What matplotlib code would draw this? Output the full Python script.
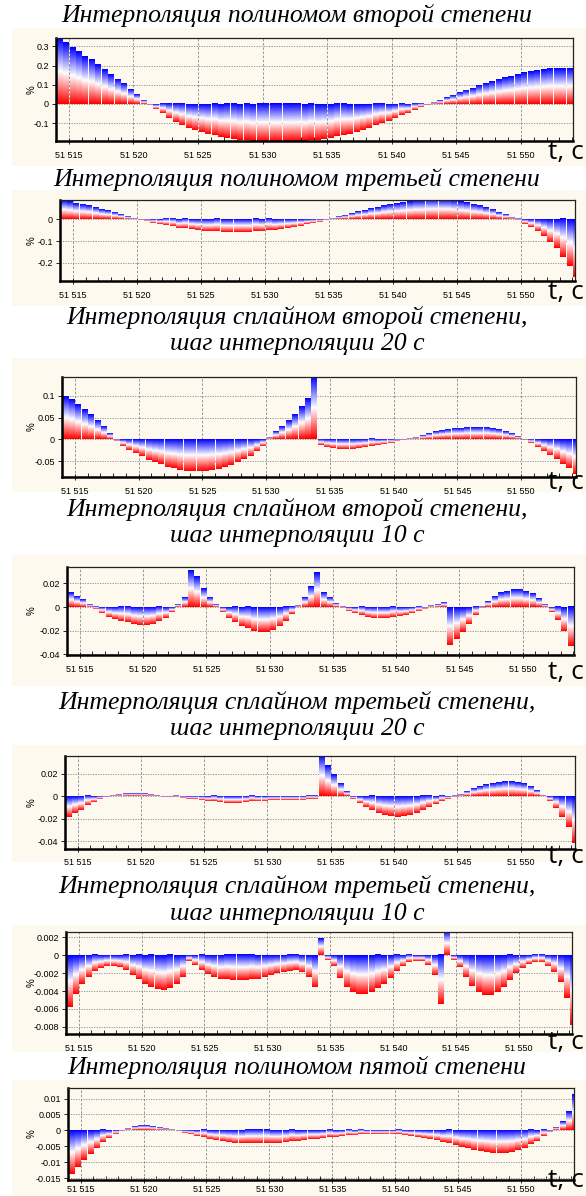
import numpy as np
import matplotlib
matplotlib.use('Agg')
import matplotlib.pyplot as plt
from matplotlib.colors import LinearSegmentedColormap
from matplotlib.patches import Rectangle
from matplotlib.ticker import FuncFormatter, MultipleLocator

# время (левый край каждого столбика), с
shag = 0.5
tempo = np.arange(51514.0, 51554.0 + shag / 2, shag)

# погрешность интерполяции, %  (шаг 0.5 с)
polinom2 = [0.34, 0.32, 0.295, 0.275, 0.25, 0.23, 0.205, 0.18, 0.155, 0.13,
            0.105, 0.075, 0.05, 0.02, -0.005, -0.025, -0.05, -0.075, -0.095, -0.11,
            -0.125, -0.135, -0.145, -0.155, -0.165, -0.172, -0.178, -0.183, -0.187, -0.19,
            -0.193, -0.195, -0.196, -0.197, -0.197, -0.197, -0.196, -0.195, -0.193, -0.19,
            -0.187, -0.182, -0.177, -0.17, -0.163, -0.155, -0.145, -0.135, -0.124, -0.112,
            -0.1, -0.087, -0.073, -0.06, -0.046, -0.032, -0.018, -0.005, 0.008, 0.02,
            0.033, 0.045, 0.058, 0.07, 0.083, 0.095, 0.107, 0.117, 0.127, 0.137,
            0.146, 0.155, 0.163, 0.17, 0.176, 0.181, 0.185, 0.187, 0.188, 0.188,
            0.188]

polinom3 = [0.085, 0.079, 0.073, 0.067, 0.06, 0.053, 0.046, 0.038, 0.03, 0.021,
            0.013, 0.004, -0.003, -0.009, -0.016, -0.022, -0.028, -0.033, -0.038, -0.042,
            -0.046, -0.049, -0.052, -0.054, -0.056, -0.057, -0.058, -0.058, -0.058, -0.057,
            -0.056, -0.054, -0.051, -0.048, -0.044, -0.04, -0.035, -0.029, -0.023, -0.017,
            -0.011, -0.004, 0.003, 0.01, 0.018, 0.026, 0.034, 0.041, 0.048, 0.055,
            0.061, 0.067, 0.072, 0.076, 0.08, 0.083, 0.086, 0.088, 0.089, 0.089,
            0.088, 0.085, 0.081, 0.076, 0.069, 0.061, 0.052, 0.042, 0.031, 0.019,
            0.006, -0.005, -0.02, -0.035, -0.055, -0.078, -0.104, -0.133, -0.175, -0.215,
            -0.265]

splain2_20 = [0.097, 0.09, 0.079, 0.068, 0.055, 0.042, 0.028, 0.012, -0.004, -0.014,
              -0.024, -0.031, -0.038, -0.046, -0.052, -0.057, -0.062, -0.066, -0.069, -0.071,
              -0.073, -0.073, -0.072, -0.07, -0.067, -0.063, -0.058, -0.052, -0.045, -0.037,
              -0.027, -0.014, 0.004, 0.016, 0.028, 0.042, 0.057, 0.074, 0.092, 0.142,
              -0.012, -0.017, -0.02, -0.022, -0.022, -0.021, -0.02, -0.018, -0.016, -0.013,
              -0.01, -0.007, -0.004, -0.002, 0.001, 0.004, 0.008, 0.012, 0.016, 0.019,
              0.021, 0.023, 0.025, 0.026, 0.027, 0.027, 0.026, 0.024, 0.021, 0.017,
              0.012, 0.006, -0.001, -0.009, -0.017, -0.026, -0.035, -0.045, -0.055, -0.066,
              -0.078]

splain2_10 = [0.012, 0.009, 0.006, 0.002, -0.002, -0.005, -0.008, -0.01, -0.012, -0.013,
              -0.014, -0.0148, -0.0148, -0.014, -0.012, -0.009, -0.004, 0.002, 0.008, 0.031,
              0.026, 0.016, 0.008, 0.002, -0.004, -0.009, -0.013, -0.016, -0.018, -0.02,
              -0.021, -0.021, -0.019, -0.016, -0.012, -0.006, 0.001, 0.008, 0.017, 0.029,
              0.012, 0.008, 0.003, -0.001, -0.003, -0.005, -0.007, -0.008, -0.009, -0.009,
              -0.009, -0.0085, -0.0075, -0.0065, -0.005, -0.0035, -0.0015, 0.001, 0.0025, 0.0035,
              -0.032, -0.027, -0.021, -0.014, -0.007, -0.001, 0.005, 0.009, 0.012, 0.0135,
              0.0145, 0.0145, 0.0135, 0.011, 0.007, 0.002, -0.004, -0.011, -0.02, -0.033,
              -0.041]

splain3_20 = [-0.018, -0.015, -0.012, -0.008, -0.005, -0.0025, -0.0008, 0.0005, 0.0012, 0.0018,
              0.002, 0.002, 0.0018, 0.0012, 0.0004, -0.0003, -0.0006, -0.001, -0.0015, -0.002,
              -0.0025, -0.003, -0.0038, -0.0045, -0.005, -0.0055, -0.0057, -0.0055, -0.005, -0.0045,
              -0.004, -0.0037, -0.0034, -0.0032, -0.003, -0.003, -0.0028, -0.0028, -0.0027, -0.0027,
              0.0355, 0.027, 0.019, 0.011, 0.004, -0.002, -0.006, -0.0095, -0.0125, -0.015,
              -0.0165, -0.0175, -0.018, -0.0175, -0.0165, -0.015, -0.0125, -0.0098, -0.007, -0.0045,
              -0.0025, -0.001, 0.001, 0.004, 0.0065, 0.0088, 0.0105, 0.0115, 0.0122, 0.0127,
              0.0128, 0.0122, 0.011, 0.0085, 0.0048, 0.0008, -0.004, -0.01, -0.018, -0.027,
              -0.041]

splain3_10 = [-0.0058, -0.0043, -0.0032, -0.0024, -0.0018, -0.0014, -0.0012, -0.0012, -0.0013, -0.0017,
              -0.0022, -0.0027, -0.0032, -0.0036, -0.0038, -0.0039, -0.0037, -0.0032, -0.0024, -0.0006,
              -0.0011, -0.0017, -0.0021, -0.0024, -0.0026, -0.0027, -0.0028, -0.0028, -0.0028, -0.0027,
              -0.0026, -0.0024, -0.0022, -0.002, -0.0019, -0.0018, -0.0017, -0.0019, -0.0024, -0.0035,
              0.0018, -0.0005, -0.0012, -0.0025, -0.0035, -0.0041, -0.0043, -0.0043, -0.0041, -0.0037,
              -0.0032, -0.0025, -0.0018, -0.0012, -0.0008, -0.0006, -0.0006, -0.0011, -0.0022, -0.0055,
              0.0026, -0.0005, -0.0013, -0.0024, -0.0034, -0.0041, -0.0044, -0.0044, -0.0041, -0.0035,
              -0.0028, -0.002, -0.0014, -0.001, -0.0008, -0.0008, -0.0012, -0.0019, -0.003, -0.0048,
              -0.0078]

polinom5 = [-0.0138, -0.0115, -0.0093, -0.0074, -0.0055, -0.0038, -0.0024, -0.0012, -0.0003, 0.0005,
            0.001, 0.0013, 0.0013, 0.0011, 0.0008, 0.0005, 0.0001, -0.0003, -0.0007, -0.0012,
            -0.0017, -0.0022, -0.0027, -0.0031, -0.0034, -0.0037, -0.0039, -0.004, -0.0041, -0.0041,
            -0.0041, -0.0041, -0.004, -0.0039, -0.0037, -0.0035, -0.0033, -0.0031, -0.0028, -0.0026,
            -0.0024, -0.0022, -0.002, -0.0018, -0.0016, -0.0014, -0.0013, -0.0012, -0.0011, -0.0011,
            -0.0011, -0.0012, -0.0013, -0.0015, -0.0017, -0.002, -0.0023, -0.0027, -0.0031, -0.0036,
            -0.0041, -0.0046, -0.0051, -0.0056, -0.0061, -0.0065, -0.0068, -0.0071, -0.0072, -0.0071,
            -0.0068, -0.0062, -0.0054, -0.0044, -0.0032, -0.0019, -0.0006, 0.0008, 0.0028, 0.0058,
            0.0112]

series = [polinom2, polinom3, splain2_20, splain2_10, splain3_20, splain3_10, polinom5]

titulos = [['Интерполяция полиномом второй степени'],
           ['Интерполяция полиномом третьей степени'],
           ['Интерполяция сплайном второй степени,', 'шаг интерполяции 20 с'],
           ['Интерполяция сплайном второй степени,', 'шаг интерполяции 10 с'],
           ['Интерполяция сплайном третьей степени,', 'шаг интерполяции 20 с'],
           ['Интерполяция сплайном третьей степени,', 'шаг интерполяции 10 с'],
           ['Интерполяция полиномом пятой степени']]

# деления оси Y и пределы осей
yticks = [[0.3, 0.2, 0.1, 0, -0.1],
          [0, -0.1, -0.2],
          [0.1, 0.05, 0, -0.05],
          [0.02, 0, -0.02, -0.04],
          [0.02, 0, -0.02, -0.04],
          [0.002, 0, -0.002, -0.004, -0.006, -0.008],
          [0.01, 0.005, 0, -0.005, -0.01, -0.015]]
ylims = [(-0.194, 0.344), (-0.284, 0.089), (-0.0857, 0.1425), (-0.0405, 0.0338),
         (-0.0467, 0.0358), (-0.0088, 0.0026), (-0.0156, 0.0133)]
xlims = [(51514.0, 51554.05), (51514.0, 51554.2), (51514.0, 51554.3), (51514.0, 51554.05),
         (51514.0, 51554.3), (51514.0, 51554.2), (51514.0, 51554.2)]

# разметка страницы в пикселях
W, H = 586, 1196
caixas = [(56, 38, 573, 141), (60, 200, 575, 281), (62, 377, 576, 477), (67, 567, 574, 655),
          (65, 756, 575, 849), (66, 932, 572, 1034), (68, 1088, 574, 1180)]
fundos = [(28, 166), (190, 306), (358, 492), (555, 686), (745, 862), (925, 1052), (1080, 1196)]
pads = [5, 5, 5, 5, 4, 5, 1]
titulo_y = [[16], [180], [318, 344], [510, 536], [703, 729], [887, 914], [1068]]
tc_y = [152, 293, 482, 672, 857, 1043, 1181]

creme = '#fdf9ee'
cmap = LinearSegmentedColormap.from_list('rwb', ['#ff0000', '#ffffff', '#0000ff'])


def barrasGradiente(ax, t, v):
    # каждый столбик: красный снизу -> белый -> синий сверху
    grad = np.linspace(0, 1, 64).reshape(-1, 1)
    for ti, vi in zip(t, v):
        lo, hi = min(0, vi), max(0, vi)
        if hi == lo:
            continue
        ax.imshow(grad, extent=[ti + 0.05, ti + shag, lo, hi], origin='lower', cmap=cmap,
                  aspect='auto', interpolation='bilinear', zorder=2)


def milhar(x, pos):
    return '{:,}'.format(int(round(x))).replace(',', ' ')


def fmt_y(y, pos):
    return '%g' % y


fig = plt.figure(figsize=(W / 100, H / 100), dpi=100)
fig.patch.set_facecolor('white')

for i in range(7):
    x0, y0, x1, y1 = caixas[i]
    fy0, fy1 = fundos[i]
    fundo = Rectangle((12 / W, 1 - fy1 / H), 1 - 12 / W, (fy1 - fy0) / H,
                      transform=fig.transFigure, facecolor=creme, edgecolor='none', zorder=-10)
    fig.patches.append(fundo)
    ax = fig.add_axes([x0 / W, 1 - y1 / H, (x1 - x0) / W, (y1 - y0) / H])
    ax.set_facecolor(creme)
    barrasGradiente(ax, tempo, series[i])
    ax.set_xlim(xlims[i])
    ax.set_ylim(ylims[i])

    ax.xaxis.set_major_locator(MultipleLocator(5))
    ax.xaxis.set_minor_locator(MultipleLocator(1))
    ax.xaxis.set_major_formatter(FuncFormatter(milhar))
    ax.set_yticks(yticks[i])
    ax.yaxis.set_major_formatter(FuncFormatter(fmt_y))
    ax.tick_params(axis='x', which='major', direction='inout', length=5, width=0.6,
                   labelsize=6.5, pad=pads[i])
    ax.tick_params(axis='x', which='minor', direction='in', length=3, width=0.6)
    ax.tick_params(axis='y', which='major', direction='out', length=3, width=0.6,
                   labelsize=6.5, pad=2)
    for lbl in ax.get_xticklabels() + ax.get_yticklabels():
        lbl.set_family('Liberation Sans')

    ax.grid(axis='x', color='#888888', linestyle=(0, (3, 2)), linewidth=0.6, zorder=1)
    ax.grid(axis='y', color='#888888', linestyle=(0, (1.5, 1.5)), linewidth=0.6, zorder=1)
    ax.set_axisbelow(True)

    for lado in ['left', 'bottom']:
        ax.spines[lado].set_linewidth(1.8)
        ax.spines[lado].set_color('black')
    for lado in ['top', 'right']:
        ax.spines[lado].set_linewidth(0.9)
        ax.spines[lado].set_color('#222222')

    fig.text(32 / W, 1 - (y0 + y1) / 2 / H, '%', rotation=90, ha='center', va='center',
             fontsize=7, family='Liberation Sans')
    fig.text(1 - 2 / W, 1 - tc_y[i] / H, 't, c', ha='right', va='center', fontsize=19,
             family='Open Sans')
    for linha, yy in zip(titulos[i], titulo_y[i]):
        fig.text(297 / W, 1 - yy / H, linha, ha='center', va='center', fontsize=18.5,
                 family='Liberation Serif', style='italic')

fig.savefig('out.png', dpi=100, facecolor='white')
